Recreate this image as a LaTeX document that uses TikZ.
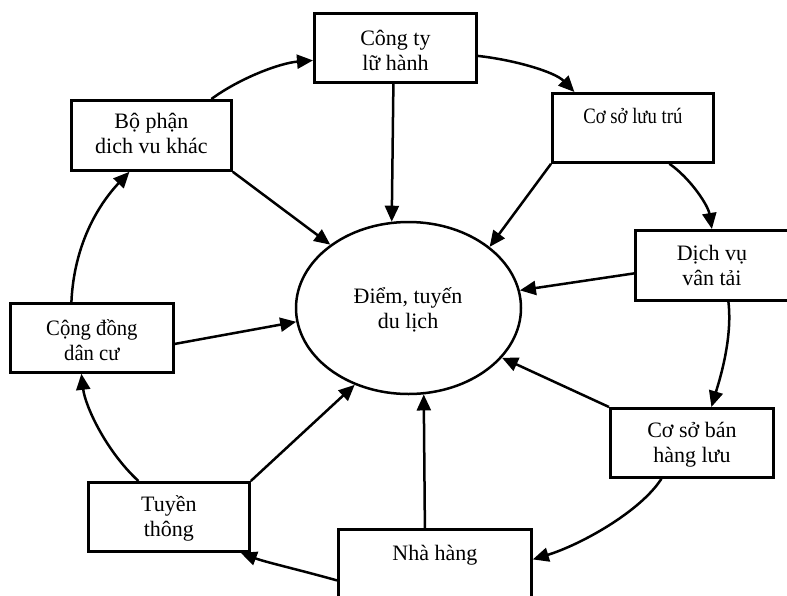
\documentclass[tikz,border=0pt]{standalone}
\usepackage{fontspec}
\usepackage{graphicx}
\setmainfont{Liberation Serif}
\usetikzlibrary{arrows.meta,shapes.geometric}
\begin{document}
\begin{tikzpicture}[x=1pt,y=-1pt,
  box/.style={draw, line width=2.8pt, inner sep=0pt, anchor=north west, minimum width=#1},
  box/.default=161pt,
  lbl/.style={anchor=base, align=center, inner sep=0pt, font=\fontsize{22}{25}\selectfont},
  arr/.style={line width=2.5pt, -{Triangle[length=16pt,width=14pt]}},
]
\useasboundingbox (0,0) rectangle (787,595);
\fill[white] (0,0) rectangle (787,595);

% boxes
\node[box=162pt, minimum height=69pt] (cty) at (313,12) {};
\node[box=161pt, minimum height=69pt] (csl) at (551,92) {};
\node[box=153pt, minimum height=70pt] (dvvt) at (634,229) {};
\node[box=163pt, minimum height=69pt] (csb) at (609,407) {};
\node[box=193pt, minimum height=90pt] (nh) at (337,528) {};
\node[box=161pt, minimum height=69pt] (tt) at (87,481) {};
\node[box=163pt, minimum height=69pt] (cd) at (9,302) {};
\node[box=160pt, minimum height=70pt] (bp) at (70,99) {};
\node[draw, ellipse, line width=2.5pt, minimum width=225pt, minimum height=172pt, inner sep=0pt] (el) at (408.5,308) {};

% labels (base anchor = baseline of the last line)
\node[lbl] (tcty) at ([yshift=-58pt]cty.north) {Công ty\\lữ hành};
\node[lbl] (tcsl) at ([yshift=-31pt]csl.north) {\scalebox{0.85}[1]{Cơ sở lưu trú}};
\node[lbl] (tdvvt) at ([yshift=-56pt]dvvt.north) {Dịch vụ\\vân tải};
\node[lbl] (tcsb) at ([yshift=-55pt]csb.north) {Cơ sở bán\\hàng lưu};
\node[lbl] (tnh) at ([yshift=-32pt]nh.north) {Nhà hàng};
\node[lbl] (ttt) at ([yshift=-55pt]tt.north) {Tuyền\\thông};
\node[lbl] (tcd) at ([yshift=-58pt]cd.north) {\scalebox{0.94}[1]{Cộng đồng}\\\scalebox{0.94}[1]{dân cư}};
\node[lbl] (tbp) at ([yshift=-54pt]bp.north) {Bộ phận\\dich vu khác};
\node[lbl] (tel) at (408,328) {Điểm, tuyến\\du lịch};

% straight arrows into the ellipse
\draw[arr] ([xshift=-2pt]cty.south) -- (el.101);
\draw[arr] (csl.south west) -- (el.37.5);
\draw[arr] ([yshift=-8pt]dvvt.west) -- (el.9.8);
\draw[arr] (csb.north west) -- (el.-28);
\draw[arr] ([xshift=-10pt]nh.north) -- (el.-80.4);
\draw[arr] (tt.north east) -- (el.235.5);
\draw[arr] ([yshift=-6pt]cd.east) -- (el.187.7);
\draw[arr] (bp.south east) -- (el.141);

% outer cycle
\draw[arr] ([xshift=60pt]bp.north) .. controls (240,78) and (280,63) .. ([yshift=-12.5pt]cty.west);
\draw[arr] ([yshift=-8pt]cty.east) .. controls (515,60) and (555,72) .. ([xshift=-58.5pt]csl.north);
\draw[arr] ([xshift=36.5pt]csl.south) .. controls (690,178) and (708,205) .. (dvvt.north);
\draw[arr] ([xshift=16.5pt]dvvt.south) .. controls (733,340) and (718,385) .. ([xshift=19.5pt]csb.north);
\draw[arr] ([xshift=-30.5pt]csb.south) .. controls (640,512) and (580,545) .. ([yshift=15pt]nh.east);
\draw[arr] ([yshift=-6pt]nh.west) .. controls (300,570) and (265,562) .. ([xshift=-10pt]tt.south east);
\draw[arr] ([xshift=-30.5pt]tt.north) .. controls (105,450) and (85,405) .. ([xshift=-10.5pt]cd.south);
\draw[arr] ([xshift=-20.5pt]cd.north) .. controls (74,245) and (98,205) .. ([xshift=-22pt]bp.south);
\end{tikzpicture}
\end{document}
